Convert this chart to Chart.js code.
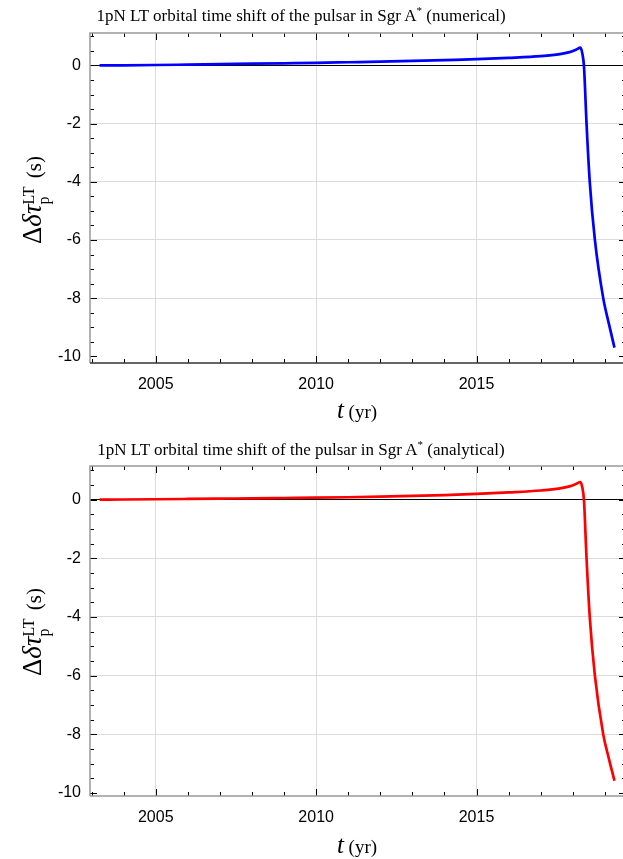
<!DOCTYPE html>
<html>
<head>
<meta charset="utf-8">
<script src="https://cdn.jsdelivr.net/npm/chart.js@4.4.1/dist/chart.umd.min.js"></script>
<style>
  html, body { margin: 0; padding: 0; background: #fff; overflow: hidden; }
  #page { position: relative; width: 623px; height: 859px; overflow: hidden; }
  canvas { position: absolute; left: 0; }
  .title {
    position: absolute; left: 0; width: 602px; text-align: center;
    font-family: "Liberation Serif", "Times New Roman", serif; font-size: 17px;
    line-height: 20px; color: #000; white-space: nowrap;
  }
  .title sup { font-size: 11px; vertical-align: 7px; line-height: 0; }
  .ylab {
    position: absolute; width: 200px; height: 36px; line-height: 36px; text-align: center;
    font-family: "Liberation Serif", "Times New Roman", serif; font-size: 21px; color: #000;
    transform: rotate(-90deg); white-space: nowrap;
  }
  .ylab .big { font-size: 27px; }
  .ylab .ss {
    display: inline-block; vertical-align: -8px; line-height: 15px; font-size: 16px; text-align: left;
    margin-right: 3px;
  }
  .xlab {
    position: absolute; width: 200px; text-align: center; line-height: 26px;
    font-family: "Liberation Serif", "Times New Roman", serif; font-size: 19px; color: #000; white-space: nowrap;
  }
  .xlab i { font-size: 25px; }
</style>
</head>
<body>
<div id="page">
  <canvas id="numChart" width="630" height="430" style="top:0"></canvas>
  <canvas id="anaChart" width="630" height="429" style="top:430px"></canvas>

  <div class="title" style="top:6px">1pN LT orbital time shift of the pulsar in Sgr A<sup>*</sup> (numerical)</div>
  <div class="title" style="top:440px">1pN LT orbital time shift of the pulsar in Sgr A<sup>*</sup> (analytical)</div>

  <div class="ylab" style="left:-68px; top:182px"><span class="big">Δ<i>δτ</i></span><span class="ss">LT<br>p</span> (s)</div>
  <div class="ylab" style="left:-68px; top:614px"><span class="big">Δ<i>δτ</i></span><span class="ss">LT<br>p</span> (s)</div>

  <div class="xlab" style="left:257px; top:397px"><i>t</i> (yr)</div>
  <div class="xlab" style="left:257px; top:832px"><i>t</i> (yr)</div>
</div>
<script>
// time in years
const timeYears = [2003.25, 2004, 2005, 2006, 2007, 2008, 2009, 2010, 2011, 2012, 2013,
  2014, 2015, 2016, 2017, 2017.6, 2017.9, 2018.1, 2018.24, 2018.3, 2018.35, 2018.43,
  2018.53, 2018.69, 2018.95, 2019.12, 2019.3];

// time shift in seconds
const numerical = [0, 0.005, 0.015, 0.03, 0.045, 0.06, 0.075, 0.09, 0.11, 0.13, 0.155,
  0.185, 0.215, 0.26, 0.32, 0.39, 0.46, 0.54, 0.61, 0.4, -0.03, -2.0,
  -4.0, -6.0, -8.0, -8.85, -9.70];
const analytical = [0, 0.004, 0.012, 0.022, 0.033, 0.045, 0.055, 0.065, 0.08, 0.1, 0.125,
  0.155, 0.195, 0.245, 0.31, 0.38, 0.45, 0.53, 0.6, 0.4, -0.03, -2.0,
  -4.0, -6.0, -8.0, -8.8, -9.58];

const xTickYears = [2005, 2010, 2015];
const yTickValues = [-10, -8, -6, -4, -2, 0];

const tickFont = { family: '"Liberation Sans", Arial, sans-serif', size: 16 };

// Mathematica-style frame with inward ticks (minor every year / 0.5 s)
const frameTicks = {
  id: 'frameTicks',
  afterDraw(chart, args, opts) {
    const { ctx, chartArea: a, scales: { x, y } } = chart;
    ctx.save();
    ctx.lineWidth = 1;
    ctx.strokeStyle = '#000';
    ctx.beginPath();
    for (let yr = 2003; yr <= 2019; yr++) {
      const px = Math.round(x.getPixelForValue(yr)) + 0.5;
      const len = yr % 5 === 0 ? 7 : 4;
      ctx.moveTo(px, a.bottom); ctx.lineTo(px, a.bottom - len);
      ctx.moveTo(px, a.top); ctx.lineTo(px, a.top + len);
    }
    for (let k = -20; k <= 2; k++) {
      const v = k / 2;
      if (v < y.min || v > y.max) continue;
      const py = Math.round(y.getPixelForValue(v)) + 0.5;
      const len = k % 4 === 0 ? 7 : 4;
      ctx.moveTo(a.left, py); ctx.lineTo(a.left + len, py);
      ctx.moveTo(a.right, py); ctx.lineTo(a.right - len, py);
    }
    ctx.stroke();

    ctx.strokeStyle = '#999';
    ctx.lineWidth = 1.5;
    ctx.beginPath();
    ctx.moveTo(a.left, a.bottom); ctx.lineTo(a.left, a.top);
    ctx.lineTo(a.right, a.top); ctx.lineTo(a.right, a.bottom);
    ctx.stroke();
    ctx.strokeStyle = opts.bottomColor || '#999';
    ctx.beginPath();
    ctx.moveTo(a.left, a.bottom); ctx.lineTo(a.right, a.bottom);
    ctx.stroke();
    ctx.restore();
  }
};

function makeChart(id, values, color, yMin, yMax, padTop, xAxisHeight, bottomColor) {
  return new Chart(document.getElementById(id), {
    type: 'line',
    data: {
      datasets: [{
        data: timeYears.map((t, i) => ({ x: t, y: values[i] })),
        borderColor: color,
        borderWidth: 2.7,
        pointRadius: 0,
        cubicInterpolationMode: 'monotone',
        fill: false
      }]
    },
    options: {
      responsive: false,
      animation: false,
      layout: { padding: { top: padTop, right: 4, left: 0, bottom: 0 } },
      plugins: {
        legend: { display: false },
        tooltip: { enabled: false },
        frameTicks: { bottomColor: bottomColor }
      },
      scales: {
        x: {
          type: 'linear',
          min: 2002.95,
          max: 2019.66,
          afterBuildTicks: (s) => { s.ticks = xTickYears.map(v => ({ value: v })); },
          afterFit: (s) => { s.height = xAxisHeight; },
          ticks: { padding: 12, color: '#000', font: tickFont, maxRotation: 0, callback: (v) => String(v) },
          grid: { color: '#dcdcdc', drawTicks: false, lineWidth: 1 },
          border: { display: false }
        },
        y: {
          type: 'linear',
          min: yMin,
          max: yMax,
          afterBuildTicks: (s) => { s.ticks = yTickValues.map(v => ({ value: v })); },
          afterFit: (s) => { s.width = 90; },
          ticks: { padding: 9, color: '#000', font: tickFont, callback: (v) => String(v) },
          grid: {
            color: (c) => c.tick.value === 0 ? '#000' : (c.tick.value === -10 ? 'rgba(0,0,0,0)' : '#dcdcdc'),
            drawTicks: false,
            lineWidth: 1
          },
          border: { display: false }
        }
      }
    },
    plugins: [frameTicks]
  });
}

makeChart('numChart', numerical, '#0000ff', -10.23, 1.116, 33, 67, '#333');
makeChart('anaChart', analytical, '#ff0000', -10.10, 1.145, 36, 63, '#999');
</script>
</body>
</html>
